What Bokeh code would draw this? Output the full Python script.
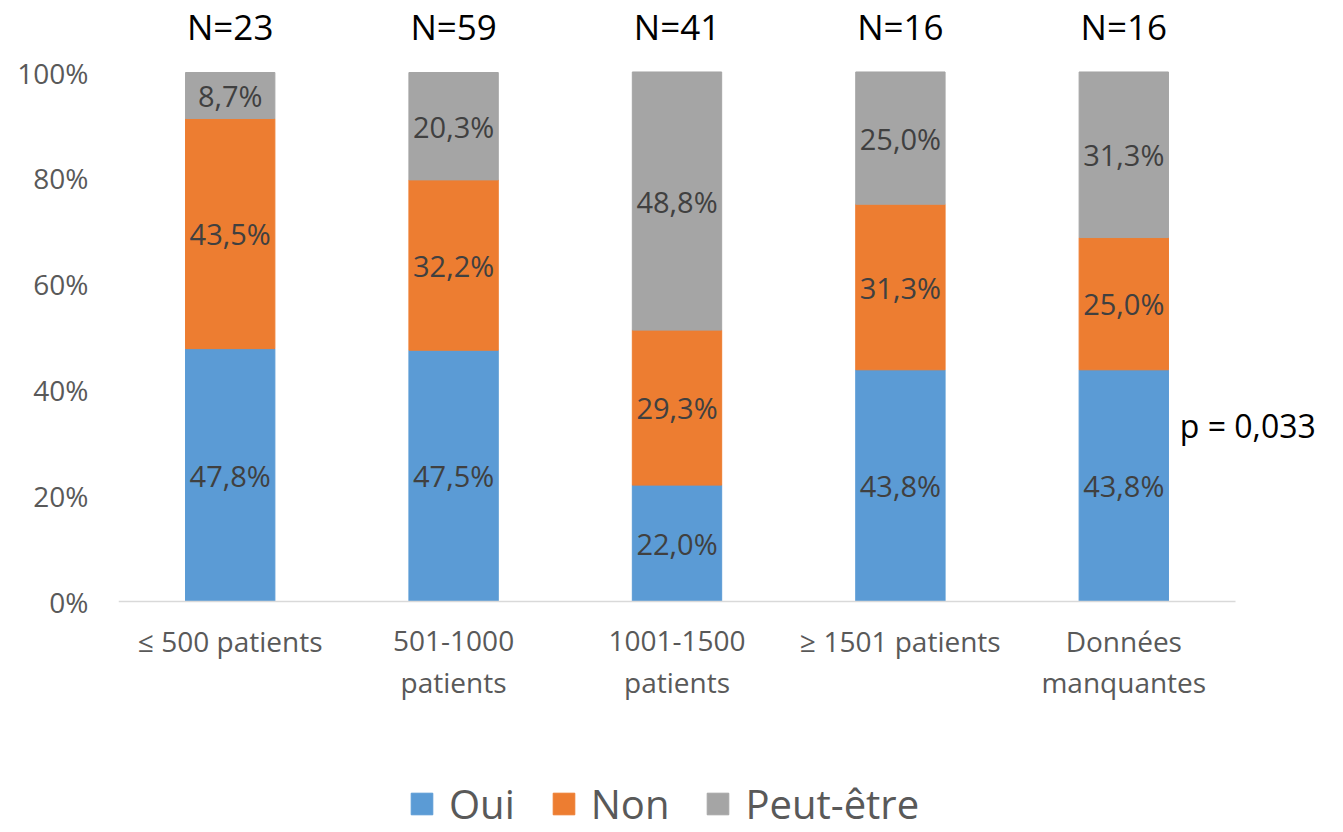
import numpy as np
from bokeh.plotting import figure
from bokeh.models import (ColumnDataSource, Range1d, FixedTicker,
                          Legend, LegendItem)
from bokeh.core.properties import value
from bokeh.embed import file_html
from bokeh.resources import INLINE

# ---- data ----
categories = ["≤ 500 patients", "501-1000\npatients", "1001-1500\npatients",
              "≥ 1501 patients", "Données\nmanquantes"]
oui = [47.8, 47.5, 22.0, 43.8, 43.8]
non = [43.5, 32.2, 29.3, 31.3, 25.0]
peut = [8.7, 20.3, 48.8, 25.0, 31.3]
n_labels = ["N=23", "N=59", "N=41", "N=16", "N=16"]
series_names = ["Oui", "Non", "Peut-être"]
colors = ["#5B9BD5", "#ED7D31", "#A5A5A5"]
y_ticks = [0, 20, 40, 60, 80, 100]
p_text = "p = 0,033"

FONT = "Open Sans"
W, H = 1335, 832
LEFT = 118            # frame left (px)
CAT_PX = 223.4        # px per category
Y0_PX, Y100_PX = 601, 72
PX_PER_UNIT = (Y0_PX - Y100_PX) / 100.0

xs = np.arange(len(categories)) + 0.5
src = ColumnDataSource(dict(x=xs, oui=oui, non=non, peut=peut))

p = figure(width=W, height=H, output_backend="svg", toolbar_location=None,
           x_range=Range1d(0, (W - LEFT) / CAT_PX),
           y_range=Range1d(-(H - Y0_PX) / PX_PER_UNIT, Y0_PX / PX_PER_UNIT),
           min_border_left=LEFT, min_border_right=0,
           min_border_top=0, min_border_bottom=0)
p.outline_line_color = None
p.background_fill_color = "white"
p.border_fill_color = "white"
p.xgrid.grid_line_color = None
p.ygrid.grid_line_color = None
p.xaxis.visible = False

rs = p.vbar_stack(["oui", "non", "peut"], x="x", width=0.4, color=colors,
                  source=src)

# category axis baseline
p.segment(x0=[0], y0=[0], x1=[len(categories)], y1=[0],
          line_color="#D9D9D9", line_width=1.5)

# category tick labels (one text per line)
lx, ly, lt = [], [], []
for xi, c in zip(xs, categories):
    for i, line in enumerate(c.split("\n")):
        lx.append(xi)
        ly.append(-(39 + 41 * i) / PX_PER_UNIT)
        lt.append(line)
p.text(x=lx, y=ly, text=lt, text_align="center", text_baseline="middle",
       text_color="#595959", text_font=value(FONT), text_font_size="28px")

# data labels in segments
oui_a, non_a, peut_a = np.array(oui), np.array(non), np.array(peut)
mids = [oui_a / 2, oui_a + non_a / 2, oui_a + non_a + peut_a / 2]
vals = [oui, non, peut]
for m, v in zip(mids, vals):
    lab_src = ColumnDataSource(dict(x=xs, y=list(m),
                                    t=[f"{x:.1f}%".replace(".", ",") for x in v]))
    p.text(x="x", y="y", text="t", source=lab_src, text_align="center",
           text_baseline="middle", text_color="#404040",
           text_font=value(FONT), text_font_size="29px")

# N labels above bars
p.text(x=xs, y=[108.7] * len(xs), text=n_labels, text_align="center",
       text_baseline="middle", text_color="black",
       text_font=value(FONT), text_font_size="35px")

# p-value annotation
p.text(x=[xs[-1]], y=[33.3], text=[p_text], x_offset=56,
       text_baseline="middle", text_align="left", text_color="black",
       text_font=value(FONT), text_font_size="32px")

# y axis
ya = p.yaxis[0]
ya.ticker = FixedTicker(ticks=y_ticks)
ya.major_label_overrides = {t: f"{t}%" for t in y_ticks}
ya.axis_line_color = None
ya.major_tick_line_color = None
ya.minor_tick_line_color = None
ya.major_label_text_font = FONT
ya.major_label_text_font_size = "28px"
ya.major_label_text_color = "#595959"
ya.major_label_standoff = 24

legend = Legend(items=[LegendItem(label=n, renderers=[r]) for n, r in zip(series_names, rs)],
                orientation="horizontal", location=(290, 1),
                glyph_width=27, glyph_height=27, label_standoff=14, spacing=35,
                padding=0, margin=0, border_line_color=None,
                background_fill_alpha=0,
                label_text_font=FONT, label_text_font_size="40px",
                label_text_color="#595959")
p.add_layout(legend, "center")

open("out.html", "w").write(file_html(p, INLINE))
